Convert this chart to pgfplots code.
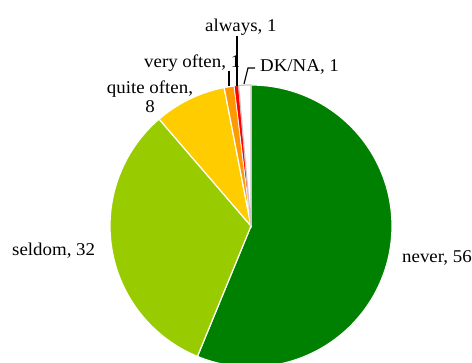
\documentclass[border=0pt]{standalone}
\usepackage{pgfplots}
\pgfplotsset{compat=1.18}
\usepackage{fontspec}
\setmainfont{Liberation Serif}[FakeStretch=1.05]
\definecolor{cNever}{HTML}{008000}
\definecolor{cSeldom}{HTML}{99CC00}
\definecolor{cQuite}{HTML}{FFCC00}
\definecolor{cVery}{HTML}{FF9900}
\definecolor{cAlways}{HTML}{FF0000}
\definecolor{cDK}{HTML}{C8C8C8}
\tikzset{lbl/.style={font=\fontsize{18bp}{21bp}\selectfont, inner sep=0pt}}
\begin{document}
\begin{tikzpicture}
% shares in percent
\def\vNever{56.2}
\def\vSeldom{32.5}
\def\vQuite{8.25}
\def\vVery{1.15}
\def\vAlways{0.5}
\def\vDK{1.4}
\pgfmathsetmacro\aA{90}
\pgfmathsetmacro\aB{\aA-3.6*\vNever}
\pgfmathsetmacro\aC{\aB-3.6*\vSeldom}
\pgfmathsetmacro\aD{\aC-3.6*\vQuite}
\pgfmathsetmacro\aE{\aD-3.6*\vVery}
\pgfmathsetmacro\aF{\aE-3.6*\vAlways}
\pgfmathsetmacro\aG{\aF-3.6*\vDK}
\begin{axis}[at={(0,0)}, anchor=south west, scale only axis,
  width=472bp, height=363bp, xmin=0, xmax=472, ymin=-363, ymax=0,
  hide axis, clip=true]
\addplot[fill=cNever, draw=white, line width=1.2bp, domain=\aB:\aA, samples=120, variable=\t]
  ({251+141*cos(\t)},{-226+141*sin(\t)}) -- (251,-226) -- cycle;
\addplot[fill=cSeldom, draw=white, line width=1.2bp, domain=\aC:\aB, samples=80, variable=\t]
  ({251+141*cos(\t)},{-226+141*sin(\t)}) -- (251,-226) -- cycle;
\addplot[fill=cQuite, draw=white, line width=1.2bp, domain=\aD:\aC, samples=30, variable=\t]
  ({251+141*cos(\t)},{-226+141*sin(\t)}) -- (251,-226) -- cycle;
\addplot[fill=cVery, draw=white, line width=1.2bp, domain=\aE:\aD, samples=6, variable=\t]
  ({251+141*cos(\t)},{-226+141*sin(\t)}) -- (251,-226) -- cycle;
\addplot[fill=cAlways, draw=white, line width=0.6bp, domain=\aF:\aE, samples=4, variable=\t]
  ({251+141*cos(\t)},{-226+141*sin(\t)}) -- (251,-226) -- cycle;
\addplot[fill=white, draw=cDK, line width=1.2bp, domain=\aG:\aF, samples=6, variable=\t]
  ({251+141*cos(\t)},{-226+141*sin(\t)}) -- (251,-226) -- cycle;
% leader lines
\addplot[black, line width=1.5bp] coordinates {(229,-71) (229,-86)};
\addplot[black, line width=1.5bp] coordinates {(237,-36) (237,-86)};
\addplot[black, line width=1.2bp] coordinates {(244,-84) (248,-68) (255,-68)};
% labels
\node[lbl, anchor=base west] at (12,-256) {seldom, 32};
\node[lbl, anchor=base west] at (402,-263) {never, 56};
\node[lbl, anchor=base] at (150,-94) {quite often,};
\node[lbl, anchor=base] at (150,-113) {8};
\node[lbl, anchor=base west] at (144,-68) {very often, 1};
\node[lbl, anchor=base west] at (205,-32) {always, 1};
\node[lbl, anchor=base west] at (260,-72) {DK/NA, 1};
\end{axis}
\pgfresetboundingbox
\path (0,0) rectangle (472bp,363bp);
\end{tikzpicture}
\end{document}
